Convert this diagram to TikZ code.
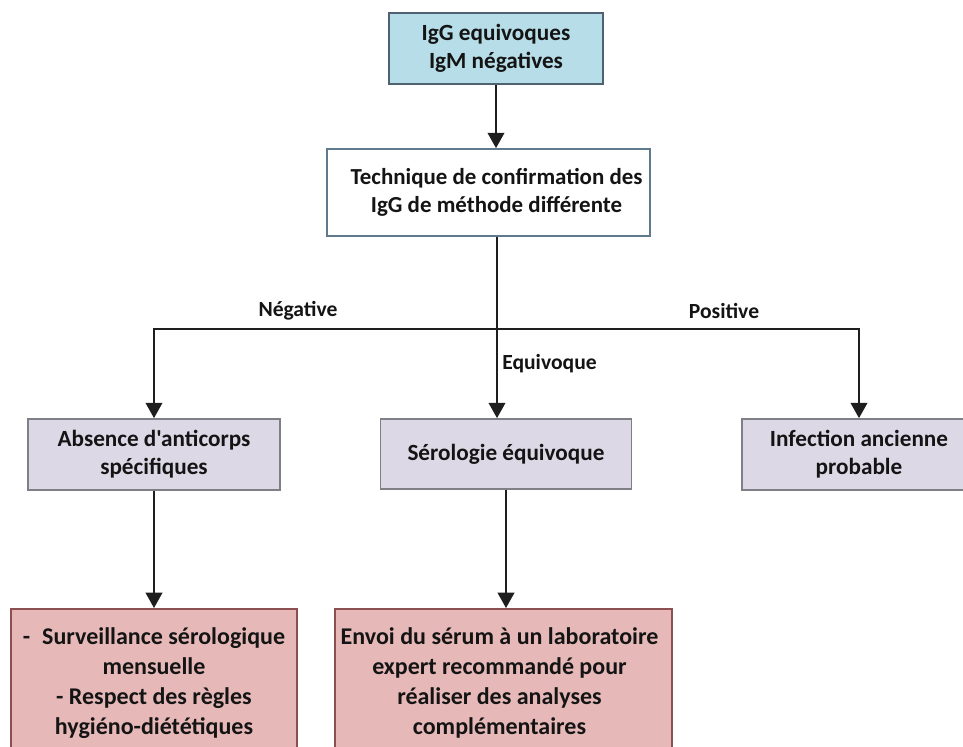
\documentclass[tikz,border=0pt]{standalone}
\usepackage{fontspec}
\setmainfont{Carlito}[Ligatures=TeXOff]
\usetikzlibrary{arrows.meta}

\definecolor{topfill}{HTML}{B7DDE8}
\definecolor{topdraw}{HTML}{4E6272}
\definecolor{techdraw}{HTML}{5F7A8C}
\definecolor{midfill}{HTML}{DCD8E6}
\definecolor{middraw}{HTML}{7F7F86}
\definecolor{endfill}{HTML}{E6B9B8}
\definecolor{enddraw}{HTML}{8C5050}
\definecolor{lineclr}{HTML}{1E1E1E}

\tikzset{
  box/.style={draw, line width=1.3pt, align=center, inner sep=0pt,
    font=\bfseries\fontsize{17.4pt}{21pt}\selectfont, text=black!92},
  topbox/.style={box, fill=topfill, draw=topdraw},
  techbox/.style={box, fill=white, draw=techdraw,
    font=\bfseries\fontsize{17.2pt}{20.5pt}\selectfont},
  midbox/.style={box, fill=midfill, draw=middraw},
  endbox/.style={box, fill=endfill, draw=enddraw,
    font=\bfseries\fontsize{18pt}{22.5pt}\selectfont},
  conn/.style={draw=lineclr, line width=1.4pt},
  arr/.style={conn, -{Triangle[width=12.5pt,length=11.5pt]}},
  lbl/.style={font=\bfseries\fontsize{16.2pt}{19pt}\selectfont, text=black!92, inner sep=0pt}
}

\begin{document}
\begin{tikzpicture}[x=0.75pt,y=-0.75pt]
  \useasboundingbox (0,0) rectangle (963,746);
  \clip (0,0) rectangle (963,746);

  % boxes
  \node[topbox, minimum width=214*0.75pt, minimum height=71*0.75pt] (top) at (496,48.5)
    {IgG equivoques\\IgM négatives};
  \node[techbox, minimum width=323*0.75pt, minimum height=87*0.75pt] (tech) at (488.5,192.5)
    {\hspace*{12pt}Technique de confirmation des\\\hspace*{12pt}IgG de méthode différente};
  \node[midbox, minimum width=252*0.75pt, minimum height=71*0.75pt] (abs) at (154,454.5)
    {Absence d'anticorps\\spécifiques};
  \node[midbox, minimum width=251*0.75pt, minimum height=70*0.75pt] (sero) at (506,454)
    {Sérologie équivoque};
  \node[midbox, minimum width=234*0.75pt, minimum height=71*0.75pt] (inf) at (859,454.5)
    {Infection ancienne\\probable};
  \node[endbox, minimum width=286*0.75pt, minimum height=148*0.75pt, anchor=north] (surv) at (154,608)
    {-\enspace Surveillance sérologique\\mensuelle\\- Respect des règles\\hygiéno-diététiques};
  \node[endbox, minimum width=337*0.75pt, minimum height=148*0.75pt, anchor=north] (envoi) at (503.5,608)
    {\hspace*{-6pt}Envoi du sérum à un laboratoire\\\hspace*{-6pt}expert recommandé pour\\\hspace*{-6pt}réaliser des analyses\\\hspace*{-6pt}complémentaires};

  % connectors
  \coordinate (split) at (497,329);
  \draw[arr] (top.south) -- (top.south |- tech.north);
  \draw[conn] (tech.south -| split) -- (split);
  \draw[arr] (split) -- (split |- sero.north);
  \draw[arr] (split) -| (abs.north);
  \draw[arr] (split) -| (inf.north);
  \draw[arr] (abs.south) -- (abs.south |- surv.north);
  \draw[arr] (sero.south) -- (sero.south |- envoi.north);

  % branch labels
  \node[lbl] (neg) at (298,311) {Négative};
  \node[lbl] (pos) at (724,311) {Positive};
  \node[lbl, anchor=west] (equ) at (502,364) {Equivoque};
\end{tikzpicture}
\end{document}
